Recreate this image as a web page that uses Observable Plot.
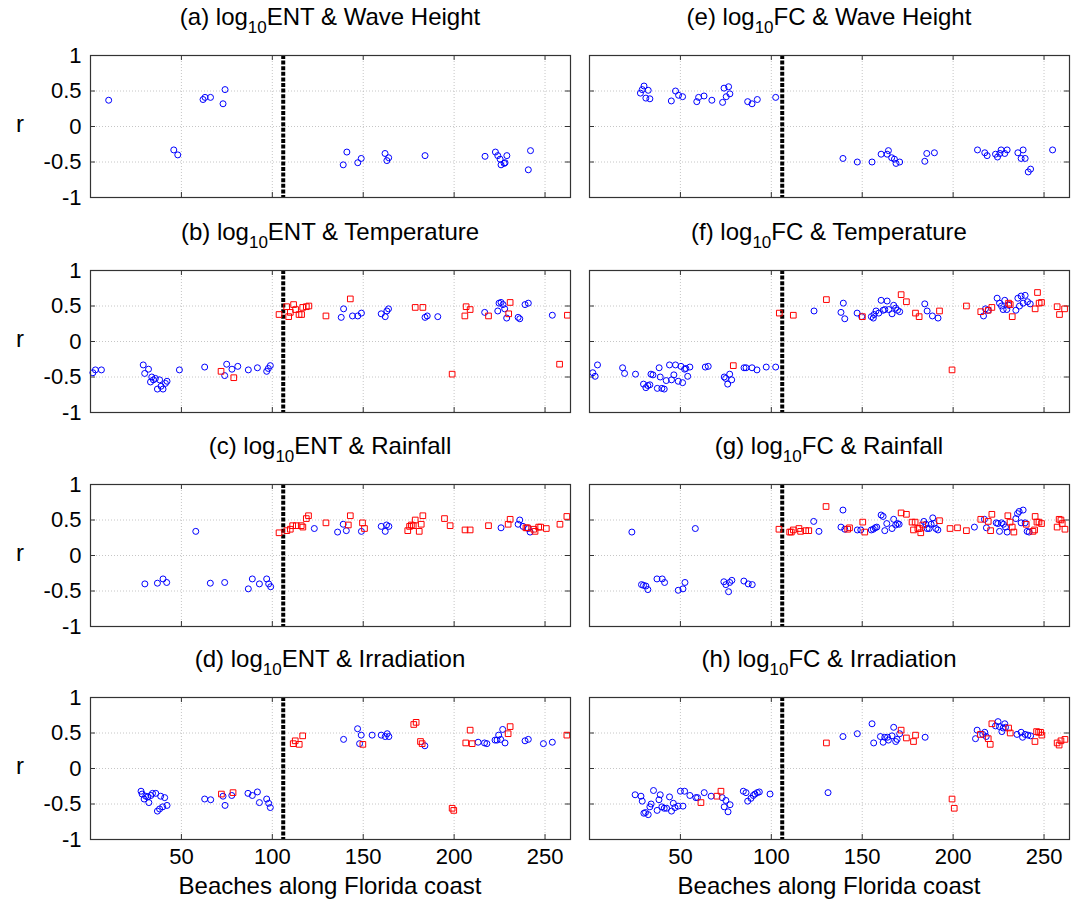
<!DOCTYPE html>
<html><head><meta charset="utf-8">
<script src="https://cdn.jsdelivr.net/npm/d3@7"></script>
<script src="https://cdn.jsdelivr.net/npm/@observablehq/plot@0.6"></script>
<style>
body{margin:0;background:#fff;}
#fig{position:relative;width:1072px;height:902px;font-family:"Liberation Sans",Arial,Helvetica,sans-serif;color:#000;overflow:hidden;}
.title{position:absolute;font-size:24px;line-height:24px;text-align:center;white-space:nowrap;}
.title .sub{font-size:17px;position:relative;top:8px;}
.lab{position:absolute;font-size:24px;line-height:24px;text-align:center;white-space:nowrap;}
.panel{position:absolute;}
</style>
</head><body>
<div id="fig"></div>
<script>
// ---------- data ----------
const xTicks = [50, 100, 150, 200, 250];
const yTicks = [-1, -0.5, 0, 0.5, 1];
const yTickLabels = ["-1", "-0.5", "0", "0.5", "1"];
const xDomain = [0, 264];
const splitBeach = 106;
const letters = [["a","b","c","d"],["e","f","g","h"]];
const indicators = ["ENT", "FC"];
const variables = ["Wave Height", "Temperature", "Rainfall", "Irradiation"];
const xLabel = "Beaches along Florida coast";
const yLabel = "r";

// [beach, r]
const aCircles = [[10,0.37],[45.8,-0.33],[48,-0.40],[61.9,0.38],[63,0.41],[66,0.41],[72.9,0.32],[74,0.52],[139,-0.54],[141,-0.36],[147,-0.51],[148.9,-0.45],[162,-0.38],[163,-0.48],[164,-0.44],[184,-0.41],[217,-0.42],[222.7,-0.36],[224,-0.41],[225.3,-0.46],[225.8,-0.54],[227.5,-0.52],[228,-0.51],[229,-0.41],[240.8,-0.61],[242,-0.34]];
const aSquares = [];

const bCircles = [[1.3,-0.44],[2.7,-0.40],[6,-0.40],[29,-0.33],[29.8,-0.45],[31.9,-0.39],[33,-0.57],[33.7,-0.50],[34.6,-0.54],[35.7,-0.52],[36.8,-0.67],[38,-0.54],[38.8,-0.63],[39.9,-0.67],[41.2,-0.59],[42.1,-0.56],[48.9,-0.40],[62.8,-0.36],[73.8,-0.48],[74.9,-0.32],[77.8,-0.39],[81,-0.35],[86.8,-0.40],[91.8,-0.37],[96.9,-0.42],[97.8,-0.38],[98.9,-0.34],[137.9,0.34],[139.2,0.46],[144.1,0.36],[147,0.36],[149,0.40],[159.9,0.39],[162.1,0.35],[163,0.43],[163.9,0.46],[184,0.34],[185.2,0.36],[191,0.35],[216.8,0.41],[224,0.43],[224.7,0.54],[225.8,0.55],[226.9,0.52],[227.8,0.46],[228.9,0.33],[235.2,0.34],[236.1,0.32],[239,0.52],[240.8,0.54],[254,0.37]];
const bSquares = [[71.8,-0.42],[78.8,-0.51],[103.7,0.38],[107.9,0.49],[109,0.35],[109.9,0.41],[111.7,0.52],[112.8,0.45],[114.7,0.38],[116.1,0.38],[116.7,0.48],[118.7,0.49],[120.1,0.50],[129.5,0.36],[142.9,0.60],[178.6,0.48],[182.8,0.48],[198.9,-0.46],[205.9,0.36],[206.6,0.49],[208.8,0.45],[218.9,0.36],[230,0.39],[230.8,0.55],[258,-0.32],[262.3,0.37]];

const cCircles = [[29.9,-0.40],[36.8,-0.39],[39.9,-0.33],[41.9,-0.38],[57.9,0.34],[65.9,-0.39],[73.8,-0.38],[86.8,-0.47],[89,-0.33],[92.9,-0.40],[96.9,-0.33],[98,-0.40],[99.1,-0.44],[123.1,0.38],[135.9,0.33],[139,0.44],[140.7,0.35],[149,0.34],[159.9,0.41],[162.1,0.34],[162.8,0.43],[164.1,0.41],[225.8,0.39],[235.2,0.44],[236.1,0.50],[237.9,0.41],[240.8,0.38],[241.8,0.33]];
const cSquares = [[103.7,0.32],[108,0.35],[109.9,0.37],[111.2,0.42],[113.2,0.42],[115.9,0.42],[116.8,0.40],[118.7,0.52],[119.9,0.56],[129.5,0.46],[141.8,0.43],[142.9,0.56],[149.6,0.46],[150.7,0.38],[174.5,0.35],[175.5,0.41],[176.5,0.43],[177.5,0.42],[178.6,0.50],[180.8,0.34],[181.9,0.44],[182.8,0.56],[194.7,0.52],[197.8,0.42],[206,0.36],[208.8,0.36],[218.9,0.42],[229.7,0.44],[230.8,0.51],[239.5,0.39],[240.3,0.39],[243.8,0.37],[244.5,0.34],[246.5,0.40],[247.6,0.40],[250.7,0.38],[258.2,0.44],[262,0.55]];

const dCircles = [[27.8,-0.32],[28.4,-0.36],[29.5,-0.43],[30.4,-0.39],[31.5,-0.40],[32.1,-0.48],[33.2,-0.38],[34.1,-0.35],[35.9,-0.35],[36.8,-0.60],[38,-0.57],[38.6,-0.39],[39.7,-0.54],[40.8,-0.41],[42.1,-0.52],[62.8,-0.43],[66.1,-0.44],[72.9,-0.39],[74,-0.52],[77.7,-0.38],[86.6,-0.35],[89,-0.38],[91.8,-0.33],[92.9,-0.48],[96.9,-0.43],[98,-0.49],[98.9,-0.55],[139.2,0.41],[146.9,0.56],[148,0.35],[148.9,0.47],[154.9,0.47],[159.9,0.47],[162.1,0.45],[163.2,0.49],[164.1,0.45],[183.9,0.32],[213.2,0.37],[216.7,0.36],[218,0.35],[222.5,0.40],[223.6,0.40],[224.5,0.47],[225.6,0.41],[226.7,0.55],[228,0.36],[239,0.39],[240.8,0.41],[249.1,0.35],[254,0.37]];
const dSquares = [[72,-0.36],[78.4,-0.34],[111.5,0.35],[112.6,0.39],[114.8,0.34],[116.7,0.46],[149.8,0.34],[177.8,0.62],[179.1,0.65],[181.5,0.38],[182.4,0.35],[198.9,-0.56],[199.8,-0.59],[206.4,0.36],[208.8,0.54],[209.9,0.35],[229.7,0.49],[230.8,0.59],[262,0.47]];

const eCircles = [[28,0.47],[29,0.52],[30,0.57],[32.3,0.51],[31,0.40],[33.2,0.39],[45,0.36],[47.3,0.50],[49,0.44],[51.2,0.42],[59,0.35],[60,0.41],[63,0.43],[67.3,0.37],[73.2,0.34],[74,0.54],[76.5,0.56],[75.2,0.42],[77.2,0.46],[87,0.35],[89.4,0.32],[92.3,0.38],[102.4,0.41],[139.4,-0.45],[147.3,-0.50],[155.4,-0.50],[160.4,-0.39],[163.7,-0.39],[164.4,-0.34],[166.2,-0.44],[167.7,-0.46],[168.6,-0.52],[170.6,-0.50],[184.4,-0.49],[185.5,-0.38],[189.7,-0.37],[213.4,-0.33],[217.4,-0.37],[218.7,-0.41],[223.3,-0.39],[224.4,-0.43],[225.7,-0.38],[226.4,-0.33],[228.4,-0.38],[229.7,-0.33],[235.6,-0.37],[237.4,-0.45],[238.5,-0.33],[239.6,-0.45],[242.6,-0.60],[241.3,-0.64],[254.7,-0.33]];
const eSquares = [];

const fCircles = [[1.8,-0.44],[3.1,-0.49],[4.4,-0.33],[18.2,-0.37],[19.3,-0.45],[25.3,-0.46],[29.7,-0.60],[31,-0.65],[32.1,-0.62],[33.2,-0.61],[33.8,-0.46],[34.9,-0.47],[37.3,-0.66],[38.3,-0.37],[38.9,-0.50],[39.8,-0.66],[41.1,-0.67],[42.2,-0.55],[44,-0.33],[45.1,-0.54],[46.4,-0.47],[47.3,-0.33],[48.8,-0.56],[50.3,-0.35],[51.2,-0.58],[52.3,-0.39],[53,-0.38],[54,-0.49],[55.2,-0.36],[63.7,-0.36],[65.3,-0.35],[74.1,-0.50],[74.9,-0.52],[76,-0.60],[77.1,-0.46],[78.2,-0.54],[85,-0.37],[86.1,-0.37],[89.4,-0.37],[92.1,-0.40],[97.2,-0.36],[102.4,-0.36],[123.5,0.43],[138.3,0.41],[139.6,0.54],[140.4,0.32],[147.2,0.40],[149.7,0.35],[155,0.35],[156.1,0.33],[156.5,0.38],[157.6,0.43],[159.1,0.40],[160.4,0.58],[161.5,0.44],[162.4,0.45],[163.7,0.57],[164.6,0.45],[166.4,0.39],[167.3,0.51],[168.4,0.47],[169.4,0.44],[170.6,0.42],[184.4,0.53],[185.7,0.43],[188.6,0.36],[191.7,0.33],[216.7,0.36],[217.8,0.46],[219.3,0.44],[224.2,0.61],[225.5,0.54],[226.6,0.50],[227.5,0.45],[228.4,0.58],[229.5,0.45],[230.6,0.51],[234.5,0.44],[235.6,0.61],[236.5,0.50],[237.4,0.64],[238.5,0.54],[239.6,0.65],[240.9,0.56],[242.4,0.53]];
const fSquares = [[79.1,-0.34],[104.4,0.40],[112.1,0.37],[130.3,0.59],[150.1,0.35],[171.4,0.66],[174.3,0.56],[179.3,0.40],[181.3,0.35],[192.5,0.43],[199.4,-0.40],[207.3,0.50],[215.2,0.42],[219.3,0.44],[221.3,0.48],[230.5,0.54],[231.4,0.52],[232.5,0.35],[245.1,0.46],[246.4,0.69],[247.3,0.54],[248.6,0.55],[257.2,0.49],[258.5,0.38],[261.3,0.46]];

const gCircles = [[23.3,0.33],[28.6,-0.41],[29.7,-0.42],[31,-0.43],[32.1,-0.48],[37.1,-0.33],[40,-0.33],[41.3,-0.38],[48.8,-0.49],[51.4,-0.47],[52.5,-0.38],[58.2,0.38],[73.9,-0.37],[75,-0.41],[76.5,-0.51],[77.1,-0.38],[78.3,-0.35],[84.9,-0.36],[87.3,-0.40],[89.5,-0.41],[123.3,0.48],[126.2,0.34],[138.3,0.40],[139.4,0.64],[140.4,0.37],[147.3,0.36],[149.2,0.36],[155,0.36],[156.1,0.37],[157.1,0.39],[158,0.40],[160.4,0.57],[161.5,0.55],[162.4,0.35],[163.5,0.45],[166.4,0.38],[167.3,0.51],[168.4,0.43],[169.4,0.45],[170.3,0.44],[183.9,0.48],[185,0.44],[185.7,0.38],[186.8,0.38],[187.9,0.44],[188.8,0.53],[189.6,0.45],[190.5,0.38],[191.6,0.36],[211.7,0.40],[217.2,0.51],[218.3,0.39],[223.7,0.46],[224.6,0.45],[225.5,0.34],[226.6,0.46],[227.7,0.44],[228.8,0.40],[229.7,0.33],[234.5,0.52],[235.4,0.59],[236.3,0.62],[237.4,0.46],[238.5,0.64],[239.6,0.46],[240.7,0.34],[241.8,0.33]];
const gSquares = [[104.2,0.37],[110.1,0.33],[111,0.33],[112.1,0.36],[115.2,0.38],[116.1,0.34],[118.9,0.35],[120.6,0.35],[130.1,0.69],[142,0.37],[143,0.39],[150.3,0.47],[151.4,0.33],[171.4,0.60],[174.3,0.58],[177.4,0.47],[178.2,0.36],[179.1,0.47],[180.6,0.38],[181.5,0.38],[182.2,0.32],[183.3,0.43],[192.5,0.49],[198.3,0.38],[202.4,0.39],[207.3,0.35],[215.2,0.51],[219.3,0.48],[220.6,0.35],[221.3,0.58],[230.1,0.56],[231.3,0.47],[232.5,0.40],[233.4,0.33],[240.2,0.44],[243.9,0.34],[244.8,0.36],[245.1,0.55],[246.1,0.47],[247.2,0.47],[248.6,0.45],[257.2,0.40],[258.3,0.51],[259.3,0.50],[260,0.45],[261.5,0.37]];

const hCircles = [[25.1,-0.37],[28.3,-0.39],[29,-0.46],[29.9,-0.63],[30.8,-0.62],[32.3,-0.65],[33.2,-0.54],[33.9,-0.50],[35.2,-0.31],[37.2,-0.59],[38.2,-0.44],[38.9,-0.37],[39.8,-0.54],[41.1,-0.56],[42.4,-0.56],[44,-0.40],[45.1,-0.60],[46.1,-0.49],[47,-0.55],[48.7,-0.53],[50,-0.32],[51.4,-0.53],[52.3,-0.32],[55.2,-0.38],[58.5,-0.41],[59.4,-0.41],[63.1,-0.34],[66.9,-0.39],[73,-0.41],[74.1,-0.54],[75,-0.45],[76.2,-0.61],[77.3,-0.51],[84.6,-0.32],[86.1,-0.34],[87,-0.46],[88.8,-0.42],[90.1,-0.38],[91,-0.36],[92.3,-0.34],[93.4,-0.33],[99.3,-0.36],[131.2,-0.34],[139.4,0.45],[147.3,0.49],[155.4,0.63],[156.3,0.36],[160,0.45],[161.5,0.37],[162.4,0.44],[163.9,0.44],[164.4,0.40],[166.4,0.46],[167.3,0.58],[168.4,0.38],[169.2,0.41],[170.6,0.49],[184.6,0.44],[212.3,0.42],[213.2,0.54],[216.3,0.48],[217.4,0.51],[218.2,0.45],[223.3,0.60],[224.7,0.66],[225.5,0.59],[226.8,0.52],[227.5,0.57],[228.4,0.63],[228.8,0.58],[235.1,0.48],[237.4,0.51],[238.2,0.44],[239.6,0.48],[241.1,0.47],[242.6,0.46]];
const hSquares = [[61.3,-0.48],[70.1,-0.39],[72.3,-0.32],[130.3,0.36],[171.4,0.54],[174.3,0.43],[178.2,0.38],[179.3,0.47],[199.4,-0.43],[200.6,-0.56],[215,0.48],[219.3,0.42],[220.4,0.34],[221.3,0.63],[230.5,0.57],[231.4,0.50],[245,0.38],[245.9,0.52],[247,0.51],[248.1,0.51],[248.8,0.47],[257.2,0.36],[258.3,0.33],[259.3,0.39],[261.5,0.41]];

const circlesByPanel = [[aCircles,bCircles,cCircles,dCircles],[eCircles,fCircles,gCircles,hCircles]];
const squaresByPanel = [[aSquares,bSquares,cSquares,dSquares],[eSquares,fSquares,gSquares,hSquares]];

// ---------- layout ----------
const fig = document.getElementById("fig");
const frameLeft = [90, 589];
const frameW = 480;
const frameTop = [55, 270, 484, 697];
const frameH = 142;
const pad = 4;
const FONT = '"Liberation Sans", Arial, Helvetica, sans-serif';

for (let col = 0; col < 2; col++) {
  for (let row = 0; row < 4; row++) {
    const isLeft = col === 0, isBottom = row === 3;
    const ml = isLeft ? frameLeft[0] : pad;
    const mb = isBottom ? 40 : pad;
    const W = ml + frameW + pad;
    const H = pad + frameH + mb;
    const tx = (xDomain[1] - xDomain[0]) * 5 / frameW;
    const ty = 2 * 5 / frameH;
    const marks = [
      Plot.ruleX(xTicks, {stroke: "#b8b8b8", strokeWidth: 0.8, strokeDasharray: "1,2"}),
      Plot.ruleY(yTicks.filter(v => v > -1 && v < 1), {stroke: "#b8b8b8", strokeWidth: 0.8, strokeDasharray: "1,2"}),
      Plot.ruleX(xTicks, {y1: -1, y2: -1 + ty, stroke: "#333", strokeWidth: 1}),
      Plot.ruleX(xTicks, {y1: 1, y2: 1 - ty, stroke: "#333", strokeWidth: 1}),
      Plot.ruleY(yTicks, {x1: xDomain[0], x2: xDomain[0] + tx, stroke: "#333", strokeWidth: 1}),
      Plot.ruleY(yTicks, {x1: xDomain[1], x2: xDomain[1] - tx, stroke: "#333", strokeWidth: 1}),
      Plot.ruleX([splitBeach], {stroke: "#000", strokeWidth: 4, strokeDasharray: "4,1.6"}),
      Plot.dot(circlesByPanel[col][row], {x: d => d[0], y: d => d[1], r: 3, stroke: "#0000ff", fill: "none", strokeWidth: 1}),
      Plot.dot(squaresByPanel[col][row], {x: d => d[0], y: d => d[1], symbol: "square", r: 3.2, stroke: "#ff0000", fill: "none", strokeWidth: 1}),
      Plot.frame({stroke: "#333", strokeWidth: 1.2})
    ];
    if (isLeft) {
      marks.push(Plot.axisY(yTicks, {anchor: "left", tickSize: 0, tickPadding: 9, fontSize: 22,
        tickFormat: d => yTickLabels[yTicks.indexOf(d)], label: null}));
    }
    if (isBottom) {
      marks.push(Plot.axisX(xTicks, {anchor: "bottom", tickSize: 0, tickPadding: 9, fontSize: 22,
        tickFormat: d => String(d), label: null}));
    }
    const chart = Plot.plot({
      width: W, height: H,
      marginLeft: ml, marginRight: pad, marginTop: pad, marginBottom: mb,
      x: {domain: xDomain, axis: null},
      y: {domain: [-1, 1], axis: null},
      style: {fontFamily: FONT, fontSize: "22px", color: "#000", background: "transparent", overflow: "visible"},
      marks
    });
    chart.classList.add("panel");
    chart.style.left = (frameLeft[col] - ml) + "px";
    chart.style.top = (frameTop[row] - pad) + "px";
    fig.appendChild(chart);

    // title
    const t = document.createElement("div");
    t.className = "title";
    t.style.left = (frameLeft[col]) + "px";
    t.style.width = frameW + "px";
    t.style.top = (frameTop[row] - 50) + "px";
    t.innerHTML = `(${letters[col][row]}) log<span class="sub">10</span>${indicators[col]} &amp; ${variables[row]}`;
    fig.appendChild(t);

    if (isLeft) {
      const r = document.createElement("div");
      r.className = "lab";
      r.textContent = yLabel;
      r.style.left = "10px";
      r.style.width = "20px";
      r.style.top = (frameTop[row] + frameH / 2 - 14) + "px";
      fig.appendChild(r);
    }
    if (isBottom) {
      const xl = document.createElement("div");
      xl.className = "lab";
      xl.textContent = xLabel;
      xl.style.left = frameLeft[col] + "px";
      xl.style.width = frameW + "px";
      xl.style.top = (frameTop[row] + frameH + 35) + "px";
      fig.appendChild(xl);
    }
  }
}
</script>
</body></html>
